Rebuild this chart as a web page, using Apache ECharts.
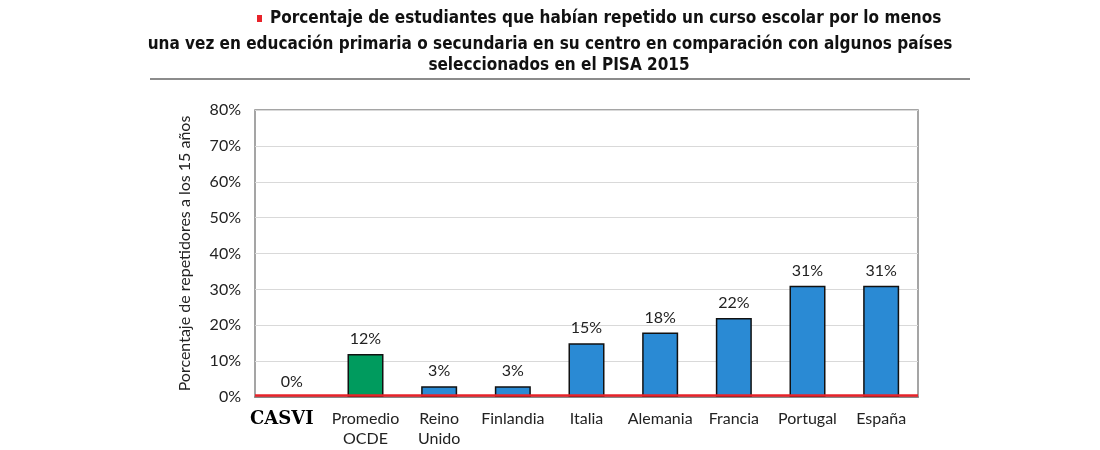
<!DOCTYPE html>
<html>
<head>
<meta charset="utf-8">
<script src="https://cdn.jsdelivr.net/npm/echarts@6/dist/echarts.min.js"></script>
<style>
  html, body { margin: 0; padding: 0; background: #fff; }
  #main { width: 1100px; height: 450px; }
</style>
</head>
<body>
<div id="main"></div>
<script>
var categories = ['CASVI', 'Promedio\nOCDE', 'Reino\nUnido', 'Finlandia', 'Italia', 'Alemania', 'Francia', 'Portugal', 'España'];
var values = [0, 12, 3, 3, 15, 18, 22, 31, 31];
var barColors = ['#2a8ad4', '#009b5e', '#2a8ad4', '#2a8ad4', '#2a8ad4', '#2a8ad4', '#2a8ad4', '#2a8ad4', '#2a8ad4'];
var refLine = 0.4;
var titleLines = [
    'Porcentaje de estudiantes que habían repetido un curso escolar por lo menos',
    'una vez en educación primaria o secundaria en su centro en comparación con algunos países',
    'seleccionados en el PISA 2015'
];

var mainFont = 'Lato, "Noto Sans", sans-serif';
var titleFont = '"Liberation Sans Narrow", "DejaVu Sans Condensed", sans-serif';

var myChart = echarts.init(document.getElementById('main'));
var option = {
    animation: false,
    backgroundColor: '#fff',
    graphic: [
        { type: 'rect', shape: { x: 257, y: 15, width: 5, height: 7 }, style: { fill: '#e8232a' } },
        { type: 'text', left: 270, top: 10, style: { text: titleLines[0], font: 'bold 17px ' + titleFont, fill: '#111' } },
        { type: 'text', x: 550, y: 36, style: { text: titleLines[1], font: 'bold 17px ' + titleFont, fill: '#111', align: 'center' } },
        { type: 'text', x: 559, y: 57, style: { text: titleLines[2], font: 'bold 17px ' + titleFont, fill: '#111', align: 'center' } },
        { type: 'line', shape: { x1: 150, y1: 79, x2: 970, y2: 79 }, style: { stroke: '#666', lineWidth: 1.5 } }
    ],
    grid: { left: 255, right: 182, top: 110, bottom: 53, show: true, borderColor: '#888', borderWidth: 1.5 },
    xAxis: {
        type: 'category',
        data: categories,
        axisLine: { lineStyle: { color: '#888', width: 2 } },
        axisTick: { show: false },
        axisLabel: {
            margin: 12,
            fontFamily: mainFont,
            fontSize: 16,
            lineHeight: 20,
            color: '#222',
            interval: 0,
            formatter: function (v, i) { return i === 0 ? '{c|' + v + '}' : v; },
            rich: {
                c: {
                    fontFamily: '"DejaVu Serif", "Liberation Serif", serif',
                    fontWeight: 'bold', fontSize: 18, color: '#000',
                    padding: [0, 20, 0, 0]
                }
            }
        }
    },
    yAxis: {
        type: 'value',
        min: 0,
        max: 80,
        interval: 10,
        name: 'Porcentaje de repetidores a los 15 años',
        nameLocation: 'middle',
        nameGap: 62,
        nameTextStyle: { fontFamily: mainFont, fontSize: 16, color: '#222' },
        axisLine: { show: false },
        axisTick: { show: false },
        axisLabel: { formatter: '{value}%', fontFamily: mainFont, fontSize: 16, color: '#222', margin: 14 },
        splitLine: { lineStyle: { color: '#d9d9d9', width: 1.2 } }
    },
    series: [{
        type: 'bar',
        data: values.map(function (v, i) {
            return { value: v, itemStyle: { color: barColors[i], borderWidth: v === 0 ? 0 : 1.5 } };
        }),
        barWidth: 36,
        itemStyle: { borderColor: '#111', borderWidth: 1.5 },
        label: {
            show: true,
            position: 'top',
            distance: 7,
            formatter: '{c}%',
            fontFamily: mainFont,
            fontSize: 16,
            color: '#222'
        },
        markLine: {
            silent: true,
            symbol: 'none',
            label: { show: false },
            lineStyle: { color: '#e8232a', width: 2.5, type: 'solid' },
            data: [{ yAxis: refLine }]
        }
    }]
};
myChart.setOption(option);
</script>
</body>
</html>
